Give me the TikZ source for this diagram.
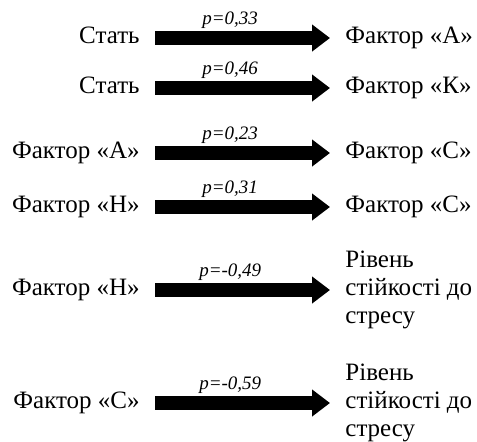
\documentclass[tikz,border=0pt]{standalone}
\usepackage{fontspec}
\setmainfont{Liberation Serif}
\usetikzlibrary{arrows.meta, positioning}

\begin{document}
\begin{tikzpicture}[
      x=0.5pt, y=0.5pt,
      factor/.style={inner sep=0pt, font=\fontsize{12.5}{14}\selectfont, text height=1.6ex, text depth=0.45ex},
      outcome/.style={inner sep=0pt, align=left, font=\fontsize{12.5}{14}\selectfont},
      coef/.style={inner sep=0pt, font=\fontsize{9.5}{11}\selectfont\itshape},
      flow/.style={line width=7pt, -{Triangle[length=9pt, width=13pt]}, shorten <=7.5pt, shorten >=7.5pt}
  ]
      \useasboundingbox (0,0) rectangle (477,-441);

      % Sources
      \node[factor, anchor=east] (src1) at (140, -38)  {Стать};
      \node[factor, anchor=east] (src2) at (140, -88)  {Стать};
      \node[factor, anchor=east] (src3) at (140, -153) {Фактор «А»};
      \node[factor, anchor=east] (src4) at (140, -207) {Фактор «Н»};
      \node[factor, anchor=east] (src5) at (140, -290) {Фактор «Н»};
      \node[factor, anchor=east] (src6) at (140, -403) {Фактор «С»};

      % Targets
      \node[factor, anchor=west] (dst1) at (345, -38)  {Фактор «А»};
      \node[factor, anchor=west] (dst2) at (345, -88)  {Фактор «К»};
      \node[factor, anchor=west] (dst3) at (345, -153) {Фактор «С»};
      \node[factor, anchor=west] (dst4) at (345, -207) {Фактор «С»};
      \node[outcome, anchor=west] (dst5) at (345, -290) {Рівень\\ стійкості до\\ стресу};
      \node[outcome, anchor=west] (dst6) at (345, -403) {Рівень\\ стійкості до\\ стресу};

      % Links
      \draw[flow] (src1.east) -- (dst1.west) node[coef, pos=0.44, above=1pt] {p=0,33};
      \draw[flow] (src2.east) -- (dst2.west) node[coef, pos=0.44, above=1pt] {p=0,46};
      \draw[flow] (src3.east) -- (dst3.west) node[coef, pos=0.44, above=1pt] {p=0,23};
      \draw[flow] (src4.east) -- (dst4.west) node[coef, pos=0.44, above=1pt] {p=0,31};
      \draw[flow] (src5.east) -- (dst5.west) node[coef, pos=0.44, above=1pt] {p=-0,49};
      \draw[flow] (src6.east) -- (dst6.west) node[coef, pos=0.44, above=1pt] {p=-0,59};

  \end{tikzpicture}
\end{document}
